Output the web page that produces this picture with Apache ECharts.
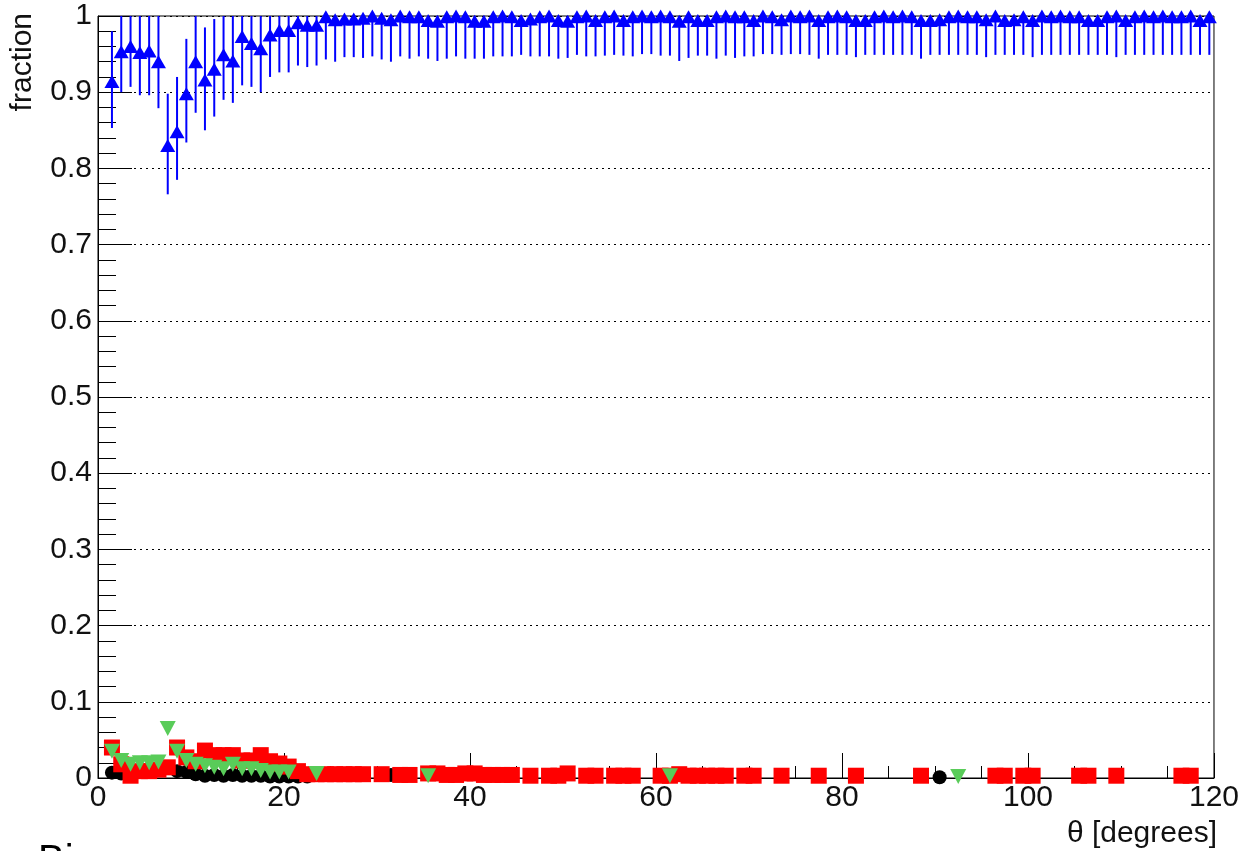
<!DOCTYPE html>
<html>
<head>
<meta charset="utf-8">
<script src="https://cdn.jsdelivr.net/npm/echarts@6/dist/echarts.min.js"></script>
<style>
html,body{margin:0;padding:0;background:#fff;}
#chart{width:1242px;height:851px;}
</style>
</head>
<body>
<div id="chart"></div>
<script>
// ---- data ----
const blueTheta = [1.5,2.5,3.5,4.5,5.5,6.5,7.5,8.5,9.5,10.5,11.5,12.5,13.5,14.5,15.5,16.5,17.5,18.5,19.5,20.5,
21.5,22.5,23.5,24.5,25.5,26.5,27.5,28.5,29.5,30.5,31.5,32.5,33.5,34.5,35.5,36.5,37.5,38.5,39.5,40.5,
41.5,42.5,43.5,44.5,45.5,46.5,47.5,48.5,49.5,50.5,51.5,52.5,53.5,54.5,55.5,56.5,57.5,58.5,59.5,60.5,
61.5,62.5,63.5,64.5,65.5,66.5,67.5,68.5,69.5,70.5,71.5,72.5,73.5,74.5,75.5,76.5,77.5,78.5,79.5,80.5,
81.5,82.5,83.5,84.5,85.5,86.5,87.5,88.5,89.5,90.5,91.5,92.5,93.5,94.5,95.5,96.5,97.5,98.5,99.5,100.5,
101.5,102.5,103.5,104.5,105.5,106.5,107.5,108.5,109.5,110.5,111.5,112.5,113.5,114.5,115.5,116.5,117.5,118.5,119.5];
const blueValue = [0.914,0.953,0.960,0.952,0.954,0.940,0.830,0.848,0.898,0.940,0.916,0.930,0.949,0.941,0.973,0.964,0.957,0.975,0.981,0.981,
0.991,0.988,0.988,0.999,0.995,0.996,0.996,0.997,1.000,0.997,0.995,1.000,0.999,0.999,0.994,0.993,0.999,1.000,0.999,0.993,
0.993,0.999,1.000,0.999,0.994,0.996,0.999,1.000,0.994,0.993,0.999,1.000,0.994,0.999,1.000,0.994,0.999,1.000,0.999,1.000,
0.999,0.993,0.999,0.994,0.994,0.999,1.000,0.999,0.999,0.994,1.000,0.999,0.995,1.000,0.999,1.000,0.994,0.999,1.000,0.999,
0.994,0.994,0.999,1.000,0.999,1.000,0.999,0.994,0.994,0.995,0.999,1.000,0.999,0.999,0.995,1.000,0.994,0.995,0.999,0.994,
1.000,0.999,1.000,0.999,0.999,0.994,0.994,0.999,1.000,0.994,0.999,1.000,0.999,1.000,0.999,0.999,1.000,0.994,0.999];
const blueLow = [0.853,0.900,0.907,0.896,0.896,0.879,0.766,0.785,0.834,0.873,0.850,0.868,0.890,0.886,0.909,0.907,0.900,0.920,0.926,0.926,
0.935,0.933,0.935,0.943,0.940,0.946,0.946,0.945,0.947,0.943,0.940,0.947,0.944,0.947,0.944,0.941,0.944,0.947,0.944,0.944,
0.944,0.947,0.947,0.947,0.949,0.947,0.947,0.947,0.944,0.945,0.949,0.947,0.947,0.948,0.949,0.948,0.947,0.950,0.950,0.948,
0.948,0.941,0.945,0.948,0.948,0.944,0.948,0.945,0.947,0.947,0.950,0.950,0.949,0.950,0.950,0.949,0.944,0.949,0.949,0.949,
0.946,0.949,0.949,0.949,0.949,0.949,0.949,0.944,0.949,0.949,0.949,0.949,0.949,0.949,0.946,0.949,0.949,0.949,0.949,0.946,
0.949,0.949,0.949,0.949,0.949,0.949,0.949,0.949,0.946,0.949,0.949,0.949,0.949,0.949,0.949,0.949,0.949,0.949,0.949];
const blueHigh = [0.980,1.000,1.000,1.000,1.000,1.000,0.898,0.920,0.970,1.000,0.985,0.996,1.000,1.000,1.000,1.000,1.000,1.000,1.000,1.000,
1.000,1.000,1.000,1.000,1.000,1.000,1.000,1.000,1.000,1.000,1.000,1.000,1.000,1.000,1.000,1.000,1.000,1.000,1.000,1.000,
1.000,1.000,1.000,1.000,1.000,1.000,1.000,1.000,1.000,1.000,1.000,1.000,1.000,1.000,1.000,1.000,1.000,1.000,1.000,1.000,
1.000,1.000,1.000,1.000,1.000,1.000,1.000,1.000,1.000,1.000,1.000,1.000,1.000,1.000,1.000,1.000,1.000,1.000,1.000,1.000,
1.000,1.000,1.000,1.000,1.000,1.000,1.000,1.000,1.000,1.000,1.000,1.000,1.000,1.000,1.000,1.000,1.000,1.000,1.000,1.000,
1.000,1.000,1.000,1.000,1.000,1.000,1.000,1.000,1.000,1.000,1.000,1.000,1.000,1.000,1.000,1.000,1.000,1.000,1.000];

const redTheta = [1.5,2.5,3.5,4.5,5.5,6.5,7.5,8.5,9.5,10.5,11.5,12.5,13.5,14.5,15.5,16.5,17.5,18.5,19.5,20.5,
21.5,22.5,23.5,24.5,25.5,26.5,27.5,28.5,30.5,32.5,33.5,35.5,36.5,37.5,38.5,39.5,40.5,41.5,42.5,43.5,44.5,
46.5,48.5,49.5,50.5,52.5,53.5,55.5,56.5,57.5,60.5,61.5,62.5,63.5,64.5,65.5,66.5,67.5,69.5,70.5,73.5,
77.5,81.5,88.5,96.5,97.5,99.5,100.5,105.5,106.5,109.5,116.5,117.5];
const redValue = [0.040,0.018,0.003,0.009,0.009,0.011,0.014,0.040,0.027,0.022,0.036,0.030,0.030,0.030,0.023,0.023,0.030,0.022,0.019,0.015,
0.009,0.005,0.005,0.005,0.005,0.005,0.005,0.005,0.005,0.004,0.004,0.006,0.006,0.004,0.004,0.006,0.006,0.004,0.004,0.004,0.004,
0.003,0.003,0.003,0.006,0.003,0.003,0.003,0.003,0.003,0.003,0.003,0.005,0.003,0.003,0.003,0.003,0.003,0.003,0.003,0.003,
0.003,0.003,0.003,0.003,0.003,0.003,0.003,0.003,0.003,0.003,0.003,0.003];

const blackTheta = [1.5,2.5,8.5,9.5,10.5,11.5,12.5,13.5,14.5,15.5,16.5,17.5,18.5,19.5,20.5,21.5,22.5,31.5,90.5];
const blackValue = [0.007,0.006,0.009,0.008,0.005,0.003,0.004,0.003,0.004,0.003,0.003,0.003,0.002,0.002,0.002,0.002,0.002,0.004,0.001];

const greenTheta = [1.5,2.5,3.5,4.5,5.5,6.5,7.5,8.5,9.5,10.5,11.5,12.5,13.5,14.5,15.5,16.5,17.5,18.5,19.5,20.5,23.5,35.5,61.5,92.5];
const greenValue = [0.035,0.023,0.018,0.020,0.020,0.021,0.065,0.035,0.023,0.018,0.016,0.014,0.012,0.018,0.012,0.012,0.010,0.008,0.008,0.008,0.006,0.003,0.003,0.002];

const xTitle = 'θ [degrees]';
const yTitle = 'fraction';
const footText = 'Bi';

// ---- chart ----
const FONT = 'Liberation Sans, Arial, Helvetica, sans-serif';
const chart = echarts.init(document.getElementById('chart'), null, {renderer: 'canvas'});
const zip = (xs, ys) => xs.map((x, i) => [x, ys[i]]);

const option = {
  animation: false,
  backgroundColor: '#fff',
  grid: {left: 98, right: 24, top: 16, bottom: 73, show: true, borderColor: '#000', borderWidth: 1, backgroundColor: 'transparent'},
  xAxis: {
    type: 'value', min: 0, max: 120, interval: 20,
    axisLine: {show: true, onZero: false, lineStyle: {color: '#000', width: 1}},
    axisTick: {show: true, inside: true, length: 25, lineStyle: {color: '#000', width: 1}},
    minorTick: {show: true, splitNumber: 4, length: 12, lineStyle: {color: '#000', width: 1}},
    splitLine: {show: false},
    axisLabel: {fontSize: 30, color: '#111', margin: 5, fontFamily: FONT, showMaxLabel: true}
  },
  yAxis: {
    type: 'value', min: 0, max: 1, interval: 0.1,
    axisLine: {show: true, lineStyle: {color: '#000', width: 1}},
    axisTick: {show: true, inside: true, length: 34, lineStyle: {color: '#000', width: 1}},
    minorTick: {show: true, splitNumber: 5, length: 18, lineStyle: {color: '#000', width: 1}},
    splitLine: {show: true, lineStyle: {color: '#000', width: 1.2, type: [2, 4]}},
    axisLabel: {fontSize: 30, color: '#111', margin: 6, fontFamily: FONT}
  },
  series: [
    {type: 'scatter', name: 'black', data: zip(blackTheta, blackValue), symbol: 'circle', symbolSize: 14,
     itemStyle: {color: '#000', opacity: 1}, clip: false, z: 2},
    {type: 'scatter', name: 'red', data: zip(redTheta, redValue), symbol: 'rect', symbolSize: 16,
     itemStyle: {color: '#ff0000', opacity: 1}, clip: false, z: 3},
    {type: 'scatter', name: 'green', data: zip(greenTheta, greenValue), symbol: 'triangle', symbolRotate: 180, symbolSize: [16, 15],
     itemStyle: {color: '#59cc59', opacity: 1}, clip: false, z: 4},
    {type: 'custom', name: 'blueErr', z: 5,
     data: blueTheta.map((t, i) => [t, blueLow[i], blueHigh[i]]),
     encode: {x: 0, y: [1, 2]},
     renderItem: function (params, api) {
       const a = api.coord([api.value(0), api.value(1)]);
       const b = api.coord([api.value(0), api.value(2)]);
       return {type: 'line', shape: {x1: a[0], y1: a[1], x2: b[0], y2: b[1]},
               style: {stroke: '#0000ff', lineWidth: 2}};
     }},
    {type: 'scatter', name: 'blue', data: zip(blueTheta, blueValue), symbol: 'triangle', symbolSize: [15, 13],
     itemStyle: {color: '#0000ff', opacity: 1}, clip: false, z: 6}
  ],
  graphic: [
    {type: 'text', x: 8, y: 13, rotation: Math.PI / 2,
     style: {text: yTitle, font: '30px ' + FONT, fill: '#111', textAlign: 'right', textVerticalAlign: 'top'}},
    {type: 'text', x: 1217, y: 834,
     style: {text: xTitle, font: '30px ' + FONT, fill: '#111', textAlign: 'right', textVerticalAlign: 'middle'}},
    {type: 'text', x: 38, y: 842,
     style: {text: footText, font: '40px ' + FONT, fill: '#000', textAlign: 'left', textVerticalAlign: 'top'}}
  ]
};
chart.setOption(option);
</script>
</body>
</html>
